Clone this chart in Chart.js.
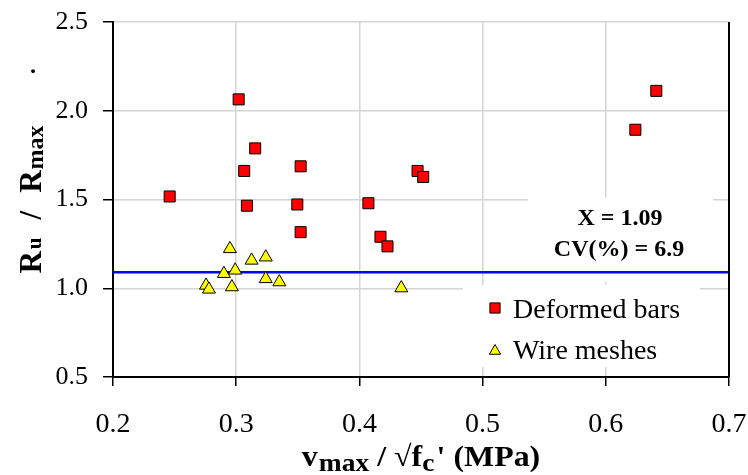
<!DOCTYPE html>
<html>
<head>
<meta charset="utf-8">
<script src="https://cdn.jsdelivr.net/npm/chart.js@4.4.1/dist/chart.umd.min.js"></script>
<style>
    body { margin: 0; background: #ffffff; }
    canvas { display: block; }
</style>
</head>
<body>
<canvas id="scatter_chart" width="748" height="475"></canvas>
<script>
// values
const deformedX = [0.246, 0.302, 0.3065, 0.3087, 0.3154, 0.3496, 0.3523, 0.3523, 0.4073, 0.4171, 0.4228, 0.4472, 0.4518, 0.624, 0.641];
const deformedY = [1.517, 2.064, 1.661, 1.465, 1.788, 1.472, 1.687, 1.316, 1.479, 1.290, 1.236, 1.661, 1.627, 1.893, 2.112];
const meshX = [0.2755, 0.2779, 0.290, 0.2949, 0.2965, 0.2992, 0.3125, 0.324, 0.324, 0.335, 0.434];
const meshY = [1.016, 0.994, 1.082, 1.222, 1.007, 1.101, 1.157, 1.175, 1.053, 1.035, 1.001];
const meanX = [0.2, 0.7];
const meanY = [1.09, 1.09];
const xTickLabels = ['0.2', '0.3', '0.4', '0.5', '0.6', '0.7'];
const yTickLabels = ['0.5', '1.0', '1.5', '2.0', '2.5'];
const statLines = ['X = 1.09', 'CV(%) = 6.9'];
const legendLabels = ['Deformed bars', 'Wire meshes'];

const serif = "'Liberation Serif', 'Times New Roman', serif";
const toPoints = (xs, ys) => xs.map((x, i) => ({ x: x, y: ys[i] }));

// draws a row of text pieces, some of them smaller and lowered (subscripts)
const drawPieces = (ctx, pieces, x, y) => {
    pieces.forEach(p => {
        ctx.font = p.font;
        ctx.fillText(p.text, x, y + (p.dy || 0));
        x += ctx.measureText(p.text).width + (p.gap || 0);
    });
};
const piecesWidth = (ctx, pieces) => {
    let w = 0;
    pieces.forEach(p => {
        ctx.font = p.font;
        w += ctx.measureText(p.text).width + (p.gap || 0);
    });
    return w;
};

//keep the plot area where the layout padding puts it
const noScalePadding = (s) => {
    s.paddingLeft = 0;
    s.paddingRight = 0;
    s.paddingTop = 0;
    s.paddingBottom = 0;
};

const overlayPlugin = {
    id: 'overlay',
    beforeDatasetsDraw(chart) {
        const ctx = chart.ctx;
        ctx.save();
        //white boxes behind the stats text and the legend
        ctx.fillStyle = '#ffffff';
        ctx.fillRect(528, 197, 185, 85);
        ctx.fillRect(463, 285, 237, 82);
        ctx.restore();
    },
    afterDraw(chart) {
        const ctx = chart.ctx;
        const area = chart.chartArea;
        ctx.save();

        //right border
        ctx.strokeStyle = '#000000';
        ctx.lineWidth = 2;
        ctx.beginPath();
        ctx.moveTo(area.right, area.top);
        ctx.lineTo(area.right, area.bottom);
        ctx.stroke();

        ctx.fillStyle = '#000000';
        ctx.textBaseline = 'alphabetic';

        //stats text
        ctx.textAlign = 'center';
        ctx.font = 'bold 24px ' + serif;
        ctx.fillText(statLines[0], 620, 225);
        ctx.fillText(statLines[1], 619, 256);

        //legend
        ctx.textAlign = 'left';
        const sets = chart.data.datasets;
        [0, 1].forEach(i => {
            const ds = sets[i === 0 ? 1 : 0];
            const cy = i === 0 ? 308 : 351;
            ctx.fillStyle = ds.backgroundColor;
            ctx.strokeStyle = ds.borderColor;
            ctx.lineWidth = 1;
            Chart.helpers.drawPoint(ctx, {
                pointStyle: ds.pointStyle,
                radius: i === 0 ? 7.2 : 6.5,
                rotation: 0,
                borderWidth: 1
            }, 495, cy);
            ctx.fillStyle = '#000000';
            ctx.font = '28px ' + serif;
            ctx.fillText(legendLabels[i], 513, i === 0 ? 318 : 359);
        });

        //x axis title, a little wider than the plain font
        const big = 'bold 29px ' + serif;
        const small = 'bold 25px ' + serif;
        const xTitle = [
            { text: 'v', font: big, gap: 1 },
            { text: 'max', font: small, dy: 5 },
            { text: ' / \u221Af', font: big },
            { text: 'c', font: small, dy: 5, gap: 2 },
            { text: "' (MPa)", font: big }
        ];
        const cx = (area.left + area.right) / 2;
        const xw = piecesWidth(ctx, xTitle);
        const stretch = 1.1;
        ctx.save();
        ctx.translate(cx - xw * stretch / 2, 466);
        ctx.scale(stretch, 1);
        drawPieces(ctx, xTitle, 0, 0);
        ctx.restore();

        //y axis title, rotated
        const yTitle = [
            { text: 'R', font: 'bold 31px ' + serif, gap: 2 },
            { text: 'u', font: 'bold 21px ' + serif, gap: 18 },
            { text: '/', font: 'bold 31px ' + serif, gap: 18 },
            { text: 'R', font: 'bold 31px ' + serif, gap: 1 },
            { text: 'max', font: 'bold 24px ' + serif, dy: 2 }
        ];
        const cyTitle = (area.top + area.bottom) / 2;
        ctx.translate(41, cyTitle + piecesWidth(ctx, yTitle) / 2);
        ctx.rotate(-Math.PI / 2);
        drawPieces(ctx, yTitle, 0, 0);
        ctx.restore();

        //stray dot above the y title
        ctx.save();
        ctx.fillStyle = '#000000';
        ctx.textAlign = 'center';
        ctx.font = 'bold 24px ' + serif;
        ctx.fillText('.', 33, 73);
        ctx.restore();
    }
};

new Chart(document.getElementById('scatter_chart'), {
    type: 'scatter',
    data: {
        datasets: [{
            label: legendLabels[1],
            data: toPoints(meshX, meshY),
            pointStyle: 'triangle',
            pointRadius: 7.5,
            backgroundColor: '#ffff00',
            borderColor: '#000000',
            borderWidth: 1
        }, {
            label: legendLabels[0],
            data: toPoints(deformedX, deformedY),
            pointStyle: 'rect',
            pointRadius: 7.8,
            backgroundColor: '#ff0000',
            borderColor: '#000000',
            borderWidth: 1
        }, {
            label: 'mean',
            type: 'line',
            data: toPoints(meanX, meanY),
            showLine: true,
            pointRadius: 0,
            borderColor: '#0000ff',
            borderWidth: 2.5,
            fill: false
        }]
    },
    options: {
        responsive: false,
        animation: false,
        layout: {
            padding: { top: 22, right: 19, bottom: 0, left: 0 }
        },
        plugins: {
            legend: { display: false },
            tooltip: { enabled: false }
        },
        scales: {
            x: {
                type: 'linear',
                min: 0.2,
                max: 0.7,
                afterFit: (s) => { s.height = 98; noScalePadding(s); },
                afterBuildTicks: (s) => { s.ticks = xTickLabels.map(t => ({ value: parseFloat(t) })); },
                ticks: {
                    padding: 22,
                    color: '#000000',
                    font: { family: serif, size: 28 },
                    callback: (value, index) => xTickLabels[index]
                },
                grid: {
                    color: '#d4d4d4',
                    lineWidth: 1.5,
                    tickColor: '#000000',
                    tickLength: 9,
                    tickWidth: 1.5
                },
                border: { color: '#000000', width: 2 }
            },
            y: {
                type: 'linear',
                min: 0.5,
                max: 2.5,
                afterFit: (s) => { s.width = 113; noScalePadding(s); },
                afterBuildTicks: (s) => { s.ticks = yTickLabels.map(t => ({ value: parseFloat(t) })); },
                ticks: {
                    padding: 15,
                    color: '#000000',
                    font: { family: serif, size: 26 },
                    callback: (value, index) => yTickLabels[index]
                },
                grid: {
                    color: '#d4d4d4',
                    lineWidth: 1.5,
                    tickColor: '#000000',
                    tickLength: 10,
                    tickWidth: 1.5
                },
                border: { color: '#000000', width: 2 }
            }
        }
    },
    plugins: [overlayPlugin]
});
</script>
</body>
</html>
